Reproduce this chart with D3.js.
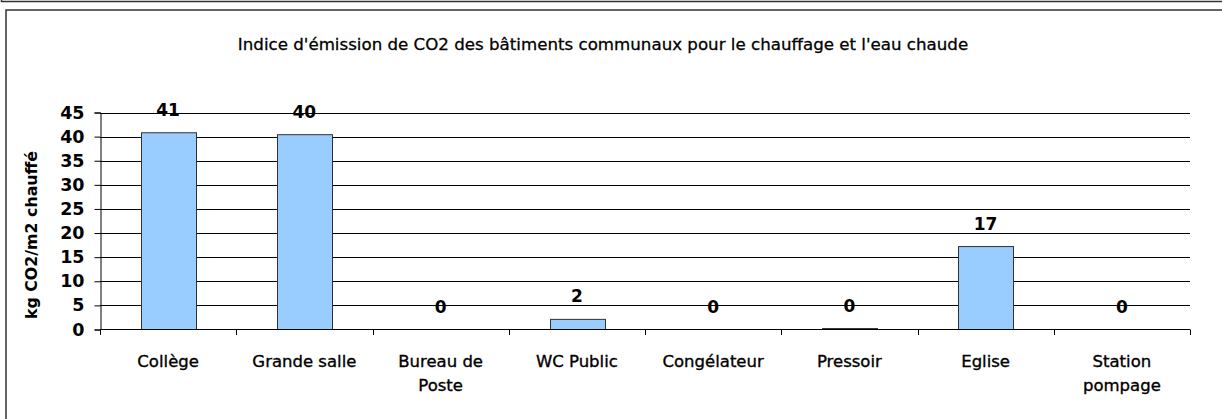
<!DOCTYPE html>
<html><head><meta charset="utf-8">
<script src="https://cdn.jsdelivr.net/npm/d3@7"></script>
<style>
html,body{margin:0;padding:0;background:#fff;}
svg{display:block;}
</style></head>
<body>
<svg id="chart" width="1222" height="419"></svg>
<script>
const categories = ["Collège","Grande salle","Bureau de Poste","WC Public","Congélateur","Pressoir","Eglise","Station pompage"];
const categoryLines = [["Collège"],["Grande salle"],["Bureau de","Poste"],["WC Public"],["Congélateur"],["Pressoir"],["Eglise"],["Station","pompage"]];
const values = [40.8, 40.4, 0, 2.1, 0, 0.2, 17.2, 0];
const yTicks = [0,5,10,15,20,25,30,35,40,45];
const title = "Indice d'émission de CO2 des bâtiments communaux pour le chauffage et l'eau chaude";
const yTitle = "kg CO2/m2 chauffé";

const svg = d3.select("#chart");
const FONT = "'DejaVu Sans', sans-serif";

// frames
svg.append("rect").attr("x",1.5).attr("y",-100).attr("width",1240).attr("height",101.5)
  .attr("fill","none").attr("stroke","#333").attr("stroke-width",1.5);
svg.append("rect").attr("x",6).attr("y",10).attr("width",1240).attr("height",500)
  .attr("fill","#fff").attr("stroke","#333").attr("stroke-width",1.5);

const x = d3.scaleBand().domain(categories).range([100,1190]).paddingInner(0.6).paddingOuter(0.3);
const y = d3.scaleLinear().domain([0,45]).range([329.5,112.5]);

// gridlines
svg.append("g").selectAll("line").data(yTicks.filter(t=>t>0)).join("line")
  .attr("x1",100).attr("x2",1190).attr("y1",d=>Math.round(y(d))+0.5).attr("y2",d=>Math.round(y(d))+0.5)
  .attr("stroke","#000").attr("stroke-width",1);

// bars
svg.append("g").selectAll("rect").data(categories).join("rect")
  .attr("x",d=>Math.round(x(d))+0.5)
  .attr("y",(d,i)=>y(values[i]))
  .attr("width",Math.round(x.bandwidth()))
  .attr("height",(d,i)=>y(0)-y(values[i]))
  .attr("fill","#99ccff").attr("stroke","#333").attr("stroke-width",1);

// y axis
const yAxis = svg.append("g").attr("transform","translate(100.5,0)")
  .call(d3.axisLeft(y).tickValues(yTicks).tickSize(6).tickPadding(10).tickFormat(d3.format("d")));
yAxis.select(".domain").attr("stroke","#000");
yAxis.selectAll(".tick line").attr("stroke","#000");
yAxis.selectAll(".tick text").attr("font-family",FONT).attr("font-weight","bold").attr("font-size",17.5).attr("fill","#000");

// x axis
const bounds = categories.map(c=>x(c)-x.step()*x.paddingOuter()).concat([x.range()[1]]);
svg.append("line").attr("x1",100).attr("x2",1190).attr("y1",329.5).attr("y2",329.5).attr("stroke","#000");
svg.append("g").selectAll("line").data(bounds).join("line")
  .attr("x1",d=>Math.round(d)+0.5).attr("x2",d=>Math.round(d)+0.5).attr("y1",329.5).attr("y2",335)
  .attr("stroke","#000");

// category labels
const cl = svg.append("g").selectAll("text").data(categories).join("text")
  .attr("x",d=>x(d)+x.bandwidth()/2).attr("y",366.5)
  .attr("text-anchor","middle").attr("font-family",FONT).attr("font-size",16.5).attr("fill","#000")
  .attr("stroke","#000").attr("stroke-width",0.35);
cl.each(function(d,i){
  d3.select(this).selectAll("tspan").data(categoryLines[i]).join("tspan")
    .attr("x",x(d)+x.bandwidth()/2).attr("dy",(t,j)=>j===0?0:24.5).text(t=>t);
});

// value labels
svg.append("g").selectAll("text").data(categories).join("text")
  .attr("x",d=>x(d)+x.bandwidth()/2).attr("y",(d,i)=>y(values[i])-17)
  .attr("text-anchor","middle").attr("font-family",FONT).attr("font-weight","bold").attr("font-size",17).attr("fill","#000")
  .text((d,i)=>d3.format(".0f")(values[i]));

// title
svg.append("text").attr("x",603).attr("y",50).attr("text-anchor","middle")
  .attr("font-family",FONT).attr("font-size",16.66).attr("fill","#000")
  .attr("stroke","#000").attr("stroke-width",0.3).text(title);

// y title
svg.append("text").attr("transform","translate(37,235) rotate(-90)").attr("text-anchor","middle")
  .attr("font-family",FONT).attr("font-weight","bold").attr("font-size",15.8).attr("fill","#000").text(yTitle);
</script>
</body></html>
